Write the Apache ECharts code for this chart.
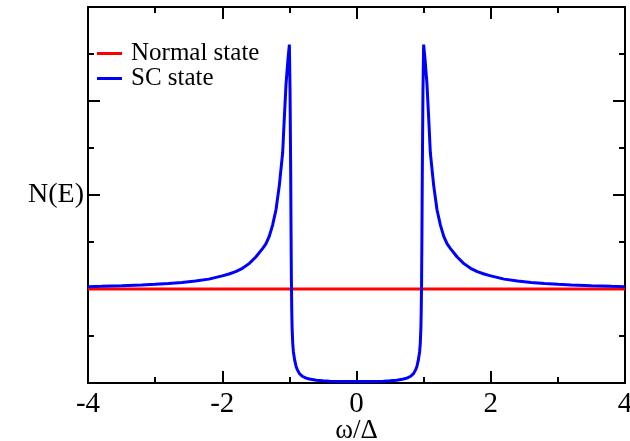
<!DOCTYPE html>
<html>
<head>
    <meta charset="utf-8">
    <title>N(E)</title>
    <script src="https://cdn.jsdelivr.net/npm/echarts@6/dist/echarts.min.js"></script>
    <style>
        html, body { margin: 0; padding: 0; background: #fff; }
        #chart { width: 630px; height: 441px; }
    </style>
</head>
<body>
<div id="chart"></div>
<script type="text/javascript">
    // data
    var normalOmega = [-4, 4];
    var normalDos = [1, 1];

    var scOmega = [
        -4.0, -3.8, -3.5, -3.2, -3.0, -2.8, -2.6, -2.4, -2.2, -2.0, -1.9, -1.8, -1.7, -1.6, -1.5,
        -1.4, -1.35, -1.3, -1.25, -1.2, -1.15, -1.1, -1.08, -1.05, -1.02, -1.0, -0.99, -0.98, -0.975,
        -0.97, -0.965, -0.96, -0.95, -0.94, -0.92, -0.9, -0.88, -0.85, -0.8, -0.75, -0.7, -0.6, -0.5,
        -0.4, -0.2, 0,
        0.2, 0.4, 0.5, 0.6, 0.7, 0.75, 0.8, 0.85, 0.88, 0.9, 0.92, 0.94, 0.95, 0.96, 0.965, 0.97,
        0.975, 0.98, 0.99, 1.0, 1.02, 1.05, 1.08, 1.1, 1.15, 1.2, 1.25, 1.3, 1.35, 1.4, 1.5, 1.6,
        1.7, 1.8, 1.9, 2.0, 2.2, 2.4, 2.6, 2.8, 3.0, 3.2, 3.5, 3.8, 4.0
    ];
    var scDos = [
        1.025, 1.028, 1.035, 1.043, 1.05, 1.058, 1.07, 1.085, 1.105, 1.14, 1.16, 1.185, 1.22, 1.27, 1.34,
        1.43, 1.48, 1.56, 1.68, 1.84, 2.10, 2.45, 2.75, 3.18, 3.45, 3.60, 3.10, 2.20, 1.60,
        1.10, 0.80, 0.60, 0.42, 0.33, 0.24, 0.175, 0.14, 0.10, 0.069, 0.052, 0.042, 0.029, 0.023,
        0.019, 0.016, 0.015,
        0.016, 0.019, 0.023, 0.029, 0.042, 0.052, 0.069, 0.10, 0.14, 0.175, 0.24, 0.33, 0.42, 0.60, 0.80, 1.10,
        1.60, 2.20, 3.10, 3.60, 3.45, 3.18, 2.75, 2.45, 2.10, 1.84, 1.68, 1.56, 1.48, 1.43, 1.34, 1.27,
        1.22, 1.185, 1.16, 1.14, 1.105, 1.085, 1.07, 1.058, 1.05, 1.043, 1.035, 1.028, 1.025
    ];

    var xTicks = {min: -4, max: 4, interval: 2};
    var yTicks = {min: 0, max: 4, interval: 1};

    function pairs(xs, ys) {
        var out = [];
        for (var i = 0; i < xs.length; i++) {
            out.push([xs[i], ys[i]]);
        }
        return out;
    }

    var serif = 'Liberation Serif';
    var axisLine = {show: true, onZero: false, lineStyle: {color: '#000', width: 2}};
    var axisTick = {inside: true, length: 12, lineStyle: {color: '#000', width: 2}};
    var minorTick = {show: true, splitNumber: 2, length: 6, lineStyle: {color: '#000', width: 2}};

    var chart = echarts.init(document.getElementById('chart'));
    var option = {
        animation: false,
        backgroundColor: '#fff',
        grid: {left: 88, right: 5, top: 7, bottom: 58, outerBoundsMode: 'none', containLabel: false},
        legend: {
            orient: 'vertical',
            left: 92,
            top: 36,
            itemWidth: 25,
            itemHeight: 3,
            itemGap: 0,
            icon: 'rect',
            textStyle: {fontFamily: serif, fontSize: 25, lineHeight: 24, color: '#000', padding: [0, 0, 0, 4]},
            data: ['Normal state', 'SC state']
        },
        xAxis: [{
            type: 'value',
            min: xTicks.min, max: xTicks.max, interval: xTicks.interval,
            name: 'ω/Δ',
            nameLocation: 'middle',
            nameGap: 34,
            nameMoveOverlap: false,
            nameTextStyle: {fontFamily: serif, fontSize: 27, color: '#000'},
            axisLine: axisLine, axisTick: axisTick, minorTick: minorTick,
            splitLine: {show: false},
            axisLabel: {fontFamily: serif, fontSize: 29, color: '#000', margin: 7}
        }, {
            type: 'value', position: 'top',
            min: xTicks.min, max: xTicks.max, interval: xTicks.interval,
            axisLine: axisLine, axisTick: axisTick, minorTick: minorTick,
            splitLine: {show: false},
            axisLabel: {show: false}
        }],
        yAxis: [{
            type: 'value',
            min: yTicks.min, max: yTicks.max, interval: yTicks.interval,
            axisLine: axisLine, axisTick: axisTick, minorTick: minorTick,
            splitLine: {show: false},
            axisLabel: {
                fontFamily: serif, fontSize: 28, color: '#000', margin: 4,
                formatter: function (v) { return v === 2 ? 'N(E)' : ''; }
            }
        }, {
            type: 'value', position: 'right',
            min: yTicks.min, max: yTicks.max, interval: yTicks.interval,
            axisLine: axisLine, axisTick: axisTick, minorTick: minorTick,
            splitLine: {show: false},
            axisLabel: {show: false}
        }],
        series: [{
            name: 'Normal state',
            type: 'line',
            showSymbol: false,
            color: '#ff0000',
            lineStyle: {width: 3},
            data: pairs(normalOmega, normalDos)
        }, {
            name: 'SC state',
            type: 'line',
            showSymbol: false,
            color: '#0000ff',
            lineStyle: {width: 3},
            data: pairs(scOmega, scDos)
        }]
    };
    chart.setOption(option);
</script>
</body>
</html>
